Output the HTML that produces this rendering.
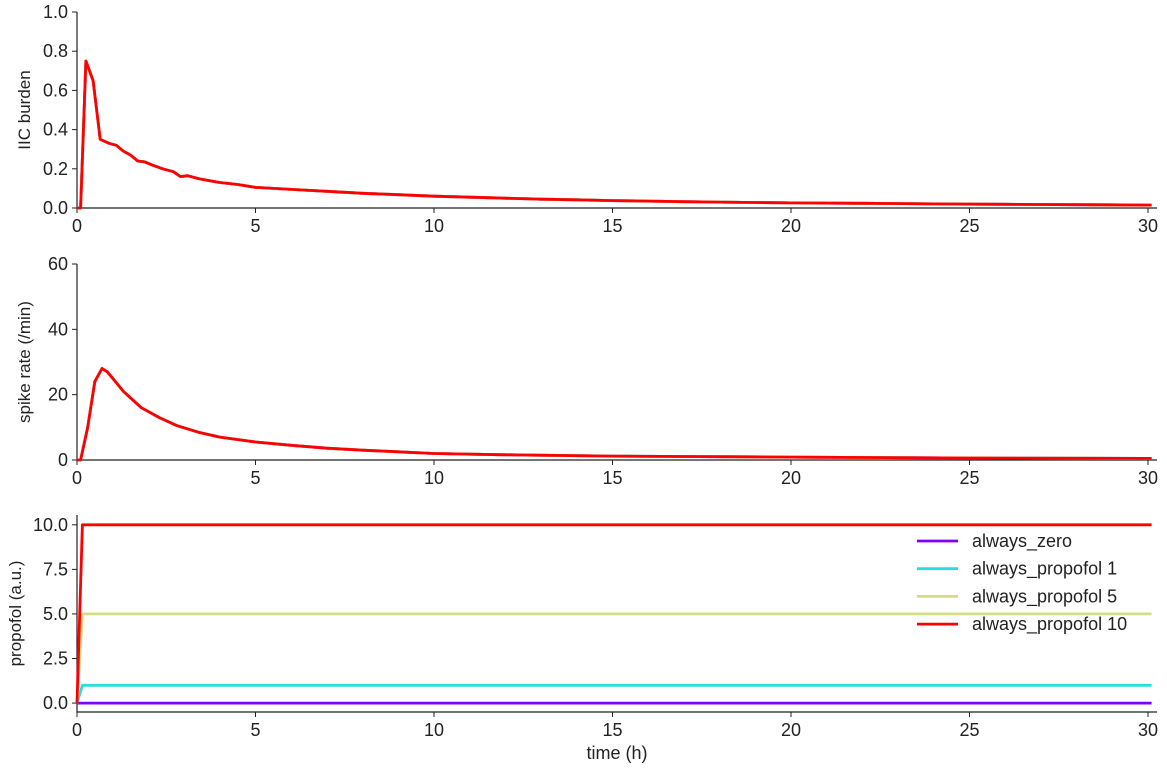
<!DOCTYPE html>
<html><head><meta charset="utf-8">
<style>
html,body{margin:0;padding:0;background:#fff;}
svg{display:block;font-family:"Liberation Sans",Arial,sans-serif;}
</style></head>
<body>
<svg id="chart" width="1167" height="768" viewBox="0 0 1167 768"></svg>
<script>
const times = [0,0.1,0.25,0.45,0.65,0.9,1.1,1.3,1.5,1.7,1.9,2.1,2.4,2.7,2.9,3.1,3.4,3.7,4,4.5,5,5.5,6,6.5,7,7.5,8,9,10,11,12,13,14,15,16,17,18,19,20,22,24,26,28,30.1];
const iicBurden = [0,0,0.75,0.65,0.35,0.33,0.32,0.29,0.27,0.24,0.235,0.22,0.2,0.185,0.16,0.165,0.15,0.14,0.13,0.12,0.105,0.1,0.095,0.09,0.085,0.08,0.075,0.068,0.06,0.055,0.05,0.045,0.042,0.038,0.035,0.032,0.03,0.028,0.026,0.024,0.021,0.019,0.017,0.015];
const spikeTimes = [0,0.1,0.3,0.5,0.7,0.85,1.0,1.3,1.8,2.3,2.8,3.4,4,5,6,7,8,9,10,12,15,20,25,30.1];
const spikeRate = [0,0,10,24,28,27,25,21,16,13,10.5,8.5,7,5.5,4.5,3.6,3,2.5,2,1.6,1.2,0.9,0.6,0.5];
const seriesNames = ["always_zero","always_propofol 1","always_propofol 5","always_propofol 10"];
const seriesColors = ["#8000ff","#2adddd","#d4dd80","#ff0000"];
const propofolLevels = [0,1,5,10];
const propTimes = [0,0.15,30.1];
const xTicks = [0,5,10,15,20,25,30];
const yTicks1 = ["0.0","0.2","0.4","0.6","0.8","1.0"];
const yTicks2 = [0,20,40,60];
const yTicks3 = ["0.0","2.5","5.0","7.5","10.0"];

const NS="http://www.w3.org/2000/svg";
const svg=document.getElementById('chart');
function mk(tag,attrs,parent){const e=document.createElementNS(NS,tag);for(const k in attrs)e.setAttribute(k,attrs[k]);(parent||svg).appendChild(e);return e;}
const X0=77,XPX=35.7;
const sx=t=>X0+t*XPX;
const panels=[
 {top:12,bot:208,ymin:0,ymax:1,label:"IIC burden",name:"iic-panel"},
 {top:264,bot:460,ymin:0,ymax:60,label:"spike rate (/min)",name:"spike-panel"},
 {top:515,bot:712,ymin:-0.5,ymax:10.55,label:"propofol (a.u.)",name:"propofol-panel"}
];
panels.forEach((p,pi)=>{
  const g=mk('g',{});
  
  
  p.sy=v=>p.bot-(v-p.ymin)/(p.ymax-p.ymin)*(p.bot-p.top);
  const ax=mk('path',{d:`M${X0},${p.top}V${p.bot}H1157`,stroke:'#222',fill:'none','stroke-width':1.2},g);
  
  
  xTicks.forEach(t=>{
    mk('line',{x1:sx(t),x2:sx(t),y1:p.bot,y2:p.bot+5,stroke:'#222'},g);
    const tx=mk('text',{x:sx(t),y:p.bot+24,'font-size':18,'text-anchor':'middle',fill:'#222'},g);
    tx.textContent=t;
    
    
  });
  const yt=pi==0?yTicks1:pi==1?yTicks2:yTicks3;
  yt.forEach(s=>{
    const y=p.sy(parseFloat(s));
    mk('line',{x1:X0-5,x2:X0,y1:y,y2:y,stroke:'#222'},g);
    const tx=mk('text',{x:X0-9,y:y+6,'font-size':18,'text-anchor':'end',fill:'#222'},g);
    tx.textContent=s;
    
    
  });
  const cy=(p.top+p.bot)/2;
  const yl=mk('text',{x:0,y:0,'font-size':17,'text-anchor':'middle',fill:'#222',transform:`translate(${pi==2?21:30},${cy}) rotate(-90)`},g);
  yl.textContent=p.label;
  
  
  p.g=g;
});
function line(ts,vs,p,color,name){
  const d=ts.map((t,i)=>(i?'L':'M')+sx(t).toFixed(1)+','+p.sy(vs[i]).toFixed(1)).join('');
  const e=mk('path',{d,stroke:color,fill:'none','stroke-width':2.8,'stroke-linejoin':'round'},p.g);
  
  
}
seriesNames.forEach((n,i)=>{
  line(times,iicBurden,panels[0],seriesColors[i],'iic-line-'+i);
  line(spikeTimes,spikeRate,panels[1],seriesColors[i],'spike-line-'+i);
  line(propTimes,[0,propofolLevels[i],propofolLevels[i]],panels[2],seriesColors[i],'propofol-line-'+i);
});
const xl=mk('text',{x:617,y:759,'font-size':18,'text-anchor':'middle',fill:'#222'});
xl.textContent="time (h)";


const lg=mk('g',{});


seriesNames.forEach((n,i)=>{
  const y=541+i*27.7;
  mk('line',{x1:917,x2:958,y1:y,y2:y,stroke:seriesColors[i],'stroke-width':2.8},lg);
  const t=mk('text',{x:972,y:y+6,'font-size':18,fill:'#222'},lg);
  t.textContent=n;
  
  
});
</script>
</body></html>
